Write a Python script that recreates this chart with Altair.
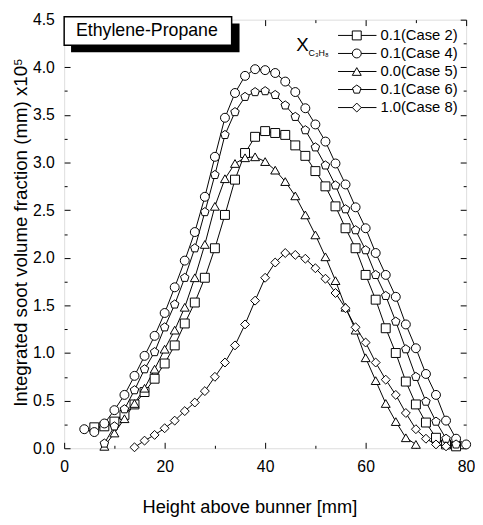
import altair as alt
import pandas as pd

# ---------------- data ----------------
x_case2 = [6, 8, 10, 12, 14, 16, 18, 20, 22, 24, 26, 28, 30, 32, 34, 36, 38, 40, 42, 44, 46, 48,
           50, 52, 54, 56, 58, 60, 62, 64, 66, 68, 70, 72, 74, 76, 78]
y_case2 = [0.22, 0.23, 0.28, 0.35, 0.46, 0.59, 0.73, 0.89, 1.08, 1.31, 1.53, 1.79, 2.10, 2.45, 2.82,
           3.10, 3.27, 3.33, 3.31, 3.29, 3.18, 3.07, 2.91, 2.75, 2.54, 2.31, 2.10, 1.82, 1.56, 1.26,
           1.00, 0.70, 0.46, 0.27, 0.11, 0.04, 0.02]

x_case4 = [4, 6, 8, 10, 12, 14, 16, 18, 20, 22, 24, 26, 28, 30, 32, 34, 36, 38, 40, 42, 44, 46, 48,
           50, 52, 54, 56, 58, 60, 62, 64, 66, 68, 70, 72, 74, 76, 78, 80]
y_case4 = [0.20, 0.17, 0.26, 0.40, 0.56, 0.76, 0.97, 1.18, 1.42, 1.69, 1.97, 2.27, 2.64, 3.06, 3.47,
           3.73, 3.91, 3.98, 3.97, 3.94, 3.85, 3.74, 3.57, 3.40, 3.22, 2.99, 2.77, 2.53, 2.31, 2.05,
           1.82, 1.59, 1.30, 1.05, 0.78, 0.56, 0.29, 0.10, 0.04]

x_case5 = [8, 10, 12, 14, 16, 18, 20, 22, 24, 26, 28, 30, 32, 34, 36, 38, 40, 42, 44, 46, 48,
           50, 52, 54, 56, 58, 60, 62, 64, 66, 68, 70]
y_case5 = [0.02, 0.16, 0.31, 0.47, 0.63, 0.83, 1.04, 1.24, 1.48, 1.79, 2.14, 2.54, 2.83, 2.99, 3.05,
           3.06, 3.01, 2.92, 2.80, 2.65, 2.45, 2.24, 2.01, 1.76, 1.48, 1.24, 0.95, 0.71, 0.47, 0.28,
           0.11, 0.04]

x_case6 = [8, 10, 12, 14, 16, 18, 20, 22, 24, 26, 28, 30, 32, 34, 36, 38, 40, 42, 44, 46, 48,
           50, 52, 54, 56, 58, 60, 62, 64, 66, 68, 70, 72, 74, 76, 78]
y_case6 = [0.05, 0.23, 0.41, 0.61, 0.83, 1.01, 1.27, 1.51, 1.79, 2.10, 2.48, 2.87, 3.29, 3.53, 3.69,
           3.74, 3.75, 3.71, 3.60, 3.48, 3.34, 3.16, 2.97, 2.76, 2.51, 2.29, 2.08, 1.82, 1.60, 1.33,
           1.04, 0.75, 0.49, 0.28, 0.10, 0.04]

x_case8 = [14, 16, 18, 20, 22, 24, 26, 28, 30, 32, 34, 36, 38, 40, 42, 44, 46, 48,
           50, 52, 54, 56, 58, 60, 62, 64, 66, 68, 70, 72, 74, 76]
y_case8 = [0.01, 0.08, 0.14, 0.21, 0.29, 0.39, 0.48, 0.60, 0.75, 0.90, 1.08, 1.30, 1.55, 1.79, 1.95,
           2.05, 2.03, 1.99, 1.89, 1.78, 1.63, 1.47, 1.27, 1.11, 0.90, 0.72, 0.56, 0.37, 0.20, 0.10,
           0.04, 0.02]

series_names = ["Case 2", "Case 4", "Case 5", "Case 6", "Case 8"]
legend_labels = ["0.1(Case 2)", "0.1(Case 4)", "0.0(Case 5)", "0.1(Case 6)", "1.0(Case 8)"]
x_ticks = [0, 20, 40, 60, 80]
x_minor = [10, 30, 50, 70]
y_ticks = [0.0, 0.5, 1.0, 1.5, 2.0, 2.5, 3.0, 3.5, 4.0, 4.5]
y_minor = [0.25, 0.75, 1.25, 1.75, 2.25, 2.75, 3.25, 3.75, 4.25]

# ---------------- build table ----------------
xs = [x_case2, x_case4, x_case5, x_case6, x_case8]
ys = [y_case2, y_case4, y_case5, y_case6, y_case8]
df = pd.concat([pd.DataFrame({"series": s, "x": xv, "y": yv})
                for s, xv, yv in zip(series_names, xs, ys)], ignore_index=True)

# ---------------- styling ----------------
W, H = 408, 435
FONT = "Liberation Sans"
PENTAGON = "M0,-1L0.951,-0.309L0.588,0.809L-0.588,0.809L-0.951,-0.309Z"
shape_scale = alt.Scale(domain=series_names,
                        range=["square", "circle", "triangle-up", PENTAGON, "diamond"])
x_scale = alt.Scale(domain=[0, 80], nice=False, zero=False)
y_scale = alt.Scale(domain=[0, 4.5], nice=False, zero=False)
MSIZE = 82

common = dict(domain=False, grid=False, tickColor="black", tickWidth=1, labelFlush=False,
              labelOverlap=False)


def ax(orient, values, size, labels=False, **kw):
    return alt.Axis(orient=orient, values=values, tickSize=size, offset=-size,
                    labels=labels, **common, **kw)


x_bottom = ax("bottom", x_ticks, 6, labels=True, labelFont=FONT, labelFontSize=16,
              labelColor="black", labelPadding=11,
              title="Height above bunner [mm]", titleFont=FONT, titleFontSize=18.5,
              titleFontWeight="normal", titleColor="black", titleX=188, titleY=65,
              titleBaseline="middle")
y_left = ax("left", y_ticks, 6, labels=True, format=".1f", labelFont=FONT, labelFontSize=16,
            labelColor="black", labelPadding=10,
            title="Integrated soot volume fraction (mm) x10\u2075", titleFont=FONT,
            titleFontSize=19, titleFontWeight="normal", titleColor="black",
            titleX=-50, titleY=215.5, titleBaseline="middle")


def axis_layer(xa, ya):
    return alt.Chart(df).mark_point(opacity=0).encode(
        x=alt.X("x:Q", scale=x_scale, axis=xa),
        y=alt.Y("y:Q", scale=y_scale, axis=ya))


axes_layers = [
    axis_layer(x_bottom, y_left),
    axis_layer(ax("bottom", x_minor, 3, title=None), ax("left", y_minor, 3, title=None)),
    axis_layer(ax("top", x_ticks, 6, title=None), ax("right", y_ticks, 6, title=None)),
    axis_layer(ax("top", x_minor, 3, title=None), ax("right", y_minor, 3, title=None)),
]

lines = alt.Chart(df).mark_line(color="black", strokeWidth=1).encode(
    x=alt.X("x:Q", scale=x_scale, axis=None),
    y=alt.Y("y:Q", scale=y_scale, axis=None),
    detail="series:N", order="x:Q")

points = alt.Chart(df).mark_point(filled=True, fill="white", stroke="black", strokeWidth=1,
                                  opacity=1, size=MSIZE).encode(
    x=alt.X("x:Q", scale=x_scale, axis=None),
    y=alt.Y("y:Q", scale=y_scale, axis=None),
    shape=alt.Shape("series:N", scale=shape_scale, legend=None))

# ---------------- manual legend ----------------
leg = pd.DataFrame({"series": series_names, "label": legend_labels,
                    "ly": [16 + 18.3 * i for i in range(len(series_names))]})
leg_rule = alt.Chart(leg).mark_rule(color="black", strokeWidth=1).encode(
    x=alt.value(278), x2=alt.value(317), y=alt.Y("ly:Q", scale=None, axis=None))
leg_pts = alt.Chart(leg).mark_point(filled=True, fill="white", stroke="black", strokeWidth=1,
                                    opacity=1, size=MSIZE).encode(
    x=alt.value(297), y=alt.Y("ly:Q", scale=None, axis=None),
    shape=alt.Shape("series:N", scale=shape_scale, legend=None))
leg_txt = alt.Chart(leg).mark_text(align="left", baseline="middle", font=FONT, fontSize=15,
                                   color="black").encode(
    x=alt.value(321), y=alt.Y("ly:Q", scale=None, axis=None), text="label:N")

one = pd.DataFrame({"a": [0]})
x_big = alt.Chart(one).mark_text(text="X", font=FONT, fontSize=19, align="center",
                                 baseline="middle", color="black").encode(
    x=alt.value(242), y=alt.value(26))
x_sub = alt.Chart(one).mark_text(text="C\u2083H\u2088", font=FONT, fontSize=9, align="left",
                                 baseline="middle", color="black").encode(
    x=alt.value(248), y=alt.value(34))

# ---------------- title box ----------------
shadow = alt.Chart(one).mark_rect(color="black").encode(
    x=alt.value(7), x2=alt.value(178), y=alt.value(4), y2=alt.value(33))
box = alt.Chart(one).mark_rect(fill="white", stroke="black", strokeWidth=1.5).encode(
    x=alt.value(0), x2=alt.value(170), y=alt.value(-3), y2=alt.value(26))
box_txt = alt.Chart(one).mark_text(text="Ethylene-Propane", font=FONT, fontSize=18,
                                   align="left", baseline="middle", color="black").encode(
    x=alt.value(12), y=alt.value(12))

chart = alt.layer(*axes_layers, lines, points, leg_rule, leg_pts, leg_txt, x_big, x_sub,
                  shadow, box, box_txt).resolve_axis(
    x="independent", y="independent").properties(
    width=W, height=H,
    autosize=alt.AutoSizeParams(type="none"),
    padding={"left": 57, "top": 8, "right": 9, "bottom": 70},
).configure_view(stroke="black", strokeWidth=1.5).configure(background="white")

chart.save("out.html", embed_options={"renderer": "svg", "actions": False})
